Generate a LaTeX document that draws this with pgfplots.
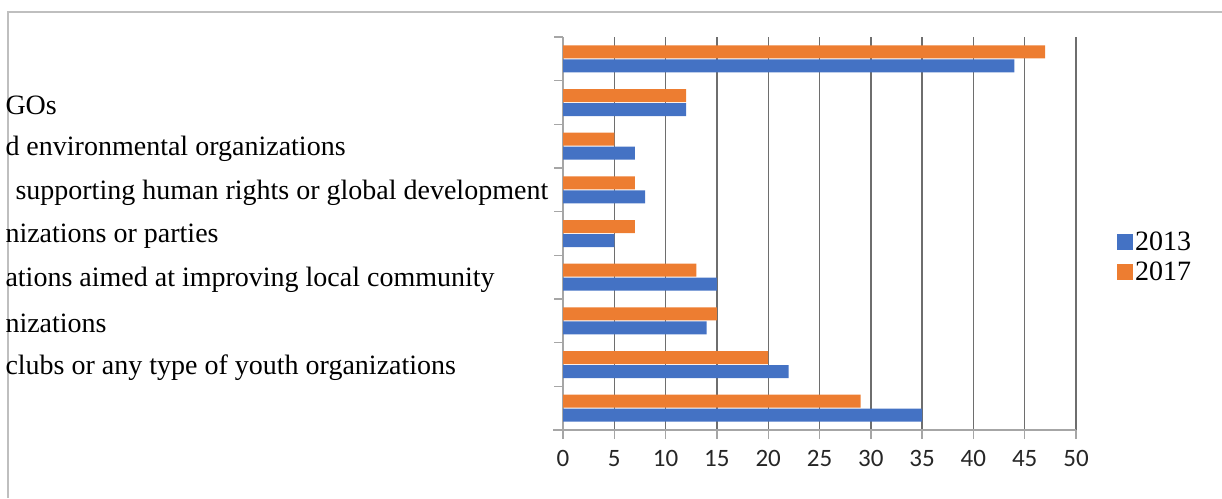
\documentclass[border=0pt]{standalone}
\usepackage{fontspec}
\setmainfont{Liberation Serif}
\newfontfamily\calibri{Carlito}
\usepackage{pgfplots}
\pgfplotsset{compat=1.18}
\definecolor{xlblue}{HTML}{4472C4}
\definecolor{xlorange}{HTML}{ED7D31}
\definecolor{gridc}{HTML}{6E6E6E}
\definecolor{axisc}{HTML}{A6A6A6}
\definecolor{framec}{HTML}{BFBFBF}
\begin{document}
\begin{tikzpicture}
\useasboundingbox (0,0) rectangle (1222pt,498pt);
\draw[framec, line width=1.2pt] (8pt,0) -- (8pt,486pt) -- (1222pt,486pt);
\begin{axis}[
  at={(563pt,68pt)}, anchor=south west,
  scale only axis, width=513pt, height=393pt,
  xbar, bar width=13pt,
  xmin=0, xmax=50, ymin=0.5, ymax=9.5,
  axis x line*=bottom, axis y line*=left,
  axis line style={axisc, line width=1.6pt},
  x axis line style={shorten <=-10pt},
  xtick={0,5,...,50},
  xmajorgrids, grid style={gridc, line width=1.4pt},
  tick align=outside, major tick length=9pt,
  tick style={axisc, line width=1.4pt},
  ytick={0.5,1.5,...,9.5}, yticklabels={},
  extra y ticks={1,2,...,9},
  extra y tick labels={{}, clubs or any type of youth organizations, nizations, ations aimed at improving local community, nizations or parties, \hspace*{10pt}supporting human rights or global development, d environmental organizations, GOs, {}},
  extra y tick style={major tick length=0pt, grid=none,
    yticklabel style={anchor=west, xshift=-561pt, yshift=-3pt, font=\fontsize{28}{30}\selectfont}},
  xticklabel style={font=\calibri\fontsize{25}{27}\selectfont, text=black!85, yshift=-8pt},
  /pgf/number format/assume math mode=true,
  legend style={at={(1.08,0.44)}, anchor=west, draw=none, fill=none, inner sep=0pt,
    font=\fontsize{28}{30}\selectfont, row sep=6pt},
  legend cell align=left,
  legend image code/.code={\fill[#1] (0pt,-8pt) rectangle (16pt,8pt);},
]
\addplot[fill=xlblue, draw=none, bar shift=-7pt] coordinates {(35,1) (22,2) (14,3) (15,4) (5,5) (8,6) (7,7) (12,8) (44,9)};
\addplot[fill=xlorange, draw=none, bar shift=7pt] coordinates {(29,1) (20,2) (15,3) (13,4) (7,5) (7,6) (5,7) (12,8) (47,9)};
\legend{2013,2017}
\end{axis}
\end{tikzpicture}
\end{document}
